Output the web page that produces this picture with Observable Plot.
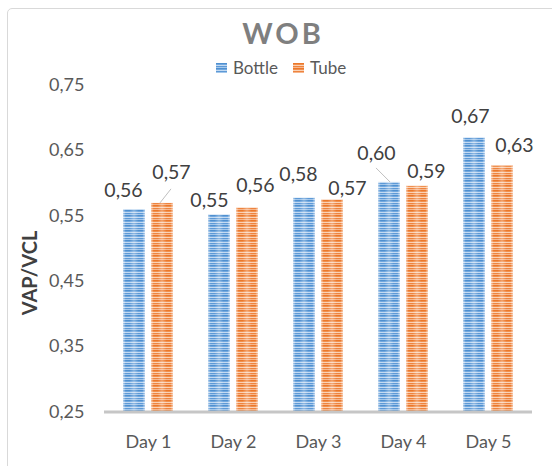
<!DOCTYPE html>
<html><head><meta charset="utf-8">
<script src="https://cdn.jsdelivr.net/npm/d3@7"></script>
<script src="https://cdn.jsdelivr.net/npm/@observablehq/plot@0.6"></script>
<style>
body{margin:0;background:#fff;}
#wrap{position:relative;width:552px;height:466px;overflow:hidden;background:#fff;font-family:Lato,sans-serif;}
#frame{position:absolute;left:7px;top:8px;width:620px;height:540px;border:1.5px solid #d9d9d9;border-radius:5px;box-sizing:border-box;}
#title{position:absolute;left:1px;width:564px;top:18px;text-align:center;font:bold 29px/30px Lato,sans-serif;letter-spacing:3px;color:#7f7f7f;}
#legend{position:absolute;left:216px;top:59px;display:flex;align-items:center;font:17px/17px Lato,sans-serif;color:#595959;}
#legend .sw{width:11px;height:10px;margin-right:6px;}
#legend .lab{margin-right:15px;}
#ytitle{position:absolute;left:28.5px;top:273px;transform:translate(-50%,-50%) rotate(-90deg);font:bold 20px Lato,sans-serif;color:#404040;white-space:nowrap;}
#chart{position:absolute;left:0;top:0;}
</style></head>
<body>
<svg width="0" height="0" style="position:absolute">
  <defs>
    <pattern id="pBottle" patternUnits="userSpaceOnUse" width="4" height="5">
      <rect width="4" height="1" y="0" fill="#4f90d0"/>
      <rect width="4" height="1" y="1" fill="#72a8de"/>
      <rect width="4" height="1" y="2" fill="#c3daf2"/>
      <rect width="4" height="1" y="3" fill="#5d99d6"/>
      <rect width="4" height="1" y="4" fill="#a3c7eb"/>
    </pattern>
    <pattern id="pTube" patternUnits="userSpaceOnUse" width="4" height="5">
      <rect width="4" height="1" y="0" fill="#ec782a"/>
      <rect width="4" height="1" y="1" fill="#f0904f"/>
      <rect width="4" height="1" y="2" fill="#fad2b5"/>
      <rect width="4" height="1" y="3" fill="#ee833e"/>
      <rect width="4" height="1" y="4" fill="#f6b68c"/>
    </pattern>
    <linearGradient id="gloss" x1="0" x2="1" y1="0" y2="0">
      <stop offset="0" stop-color="#fff" stop-opacity="0.55"/>
      <stop offset="0.12" stop-color="#fff" stop-opacity="0"/>
      <stop offset="0.3" stop-color="#fff" stop-opacity="0"/>
      <stop offset="0.5" stop-color="#fff" stop-opacity="0.3"/>
      <stop offset="0.7" stop-color="#fff" stop-opacity="0"/>
      <stop offset="0.88" stop-color="#fff" stop-opacity="0"/>
      <stop offset="1" stop-color="#fff" stop-opacity="0.55"/>
    </linearGradient>
  </defs>
</svg>
<div id="wrap">
  <div id="frame"></div>
  <div id="chart"></div>
  <div id="title">WOB</div>
  <div id="legend"></div>
  <div id="ytitle">VAP/VCL</div>
</div>
<script>
// ---- data ----
const days = ["Day 1", "Day 2", "Day 3", "Day 4", "Day 5"];
const seriesNames = ["Bottle", "Tube"];
const bottle = [0.559, 0.551, 0.577, 0.601, 0.669];
const tube = [0.569, 0.562, 0.574, 0.595, 0.626];
const yTicks = [0.25, 0.35, 0.45, 0.55, 0.65, 0.75];

// ---- layout (label nudges in px, [dx, dy]) ----
const bottleNudge = [[-11, -19], [-10, -14], [-6, -23], [-13, -29], [-4, -21]];
const tubeNudge = [[9, -31], [8, -22], [15, -11], [9, -15], [12, -20]];
const fills = {Bottle: "url(#pBottle)", Tube: "url(#pTube)"};
const swatchCss = {
  Bottle: "repeating-linear-gradient(to bottom,#4f90d0 0 1px,#72a8de 1px 2px,#c3daf2 2px 3px,#5d99d6 3px 4px,#a3c7eb 4px 5px)",
  Tube: "repeating-linear-gradient(to bottom,#ec782a 0 1px,#f0904f 1px 2px,#fad2b5 2px 3px,#ee833e 3px 4px,#f6b68c 4px 5px)"
};

const fmt = v => d3.format(".2f")(v).replace(".", ",");
const rows = days.flatMap((d, i) => [
  {day: d, series: "Bottle", value: bottle[i], i},
  {day: d, series: "Tube", value: tube[i], i}
]);
const bRows = rows.filter(r => r.series === "Bottle");
const tRows = rows.filter(r => r.series === "Tube");
const base = yTicks[0];

const labelMarks = [];
bRows.forEach((r, k) => labelMarks.push(Plot.text([r], {
  x: "day", y: "value", text: d => fmt(d.value),
  dx: -14 + bottleNudge[k][0], dy: bottleNudge[k][1],
  fill: "#404040", fontSize: 19.5
})));
tRows.forEach((r, k) => labelMarks.push(Plot.text([r], {
  x: "day", y: "value", text: d => fmt(d.value),
  dx: 14 + tubeNudge[k][0], dy: tubeNudge[k][1],
  fill: "#404040", fontSize: 19.5
})));

const chart = Plot.plot({
  width: 552,
  height: 466,
  marginLeft: 104,
  marginRight: 20,
  marginTop: 84.5,
  marginBottom: 54.5,
  style: {fontFamily: "Lato, sans-serif", fontSize: "18px", color: "#595959", background: "transparent"},
  x: {domain: days, paddingInner: 0.416, paddingOuter: 0.208, tickSize: 0, tickPadding: 23, label: null},
  y: {domain: [yTicks[0], yTicks[yTicks.length - 1]], ticks: yTicks, tickFormat: fmt, tickSize: 0, tickPadding: 20, label: null},
  marks: [
    Plot.barY(bRows, {x: "day", y1: () => base, y2: "value", fill: fills.Bottle, insetRight: 28}),
    Plot.barY(bRows, {x: "day", y1: () => base, y2: "value", fill: "url(#gloss)", insetRight: 28}),
    Plot.barY(tRows, {x: "day", y1: () => base, y2: "value", fill: fills.Tube, insetLeft: 28}),
    Plot.barY(tRows, {x: "day", y1: () => base, y2: "value", fill: "url(#gloss)", insetLeft: 28}),
    Plot.ruleY([base], {stroke: "#c6c6c6", strokeWidth: 3}),
    ...labelMarks
  ]
});
document.getElementById("chart").appendChild(chart);

// leader lines for moved labels, positioned through the plot's scales
const xs = chart.scale("x"), ys = chart.scale("y");
const leaders = [
  {i: 0, series: "Tube", from: [-2, 0], to: [9, -14]},
  {i: 3, series: "Bottle", from: [1, 0], to: [-13, -14]}
];
const svg = d3.select(chart);
leaders.forEach(l => {
  const v = l.series === "Bottle" ? bottle[l.i] : tube[l.i];
  const cx = xs.apply(days[l.i]) + xs.bandwidth / 2 + (l.series === "Bottle" ? -14 : 14);
  const cy = ys.apply(v);
  svg.append("line")
    .attr("x1", cx + l.from[0]).attr("y1", cy + l.from[1])
    .attr("x2", cx + l.to[0]).attr("y2", cy + l.to[1])
    .attr("stroke", "#bfbfbf").attr("stroke-width", 1);
});

// legend
const lg = d3.select("#legend");
seriesNames.forEach(s => {
  lg.append("div").attr("class", "sw").style("background", swatchCss[s]);
  lg.append("div").attr("class", "lab").text(s);
});
</script>
</body></html>
